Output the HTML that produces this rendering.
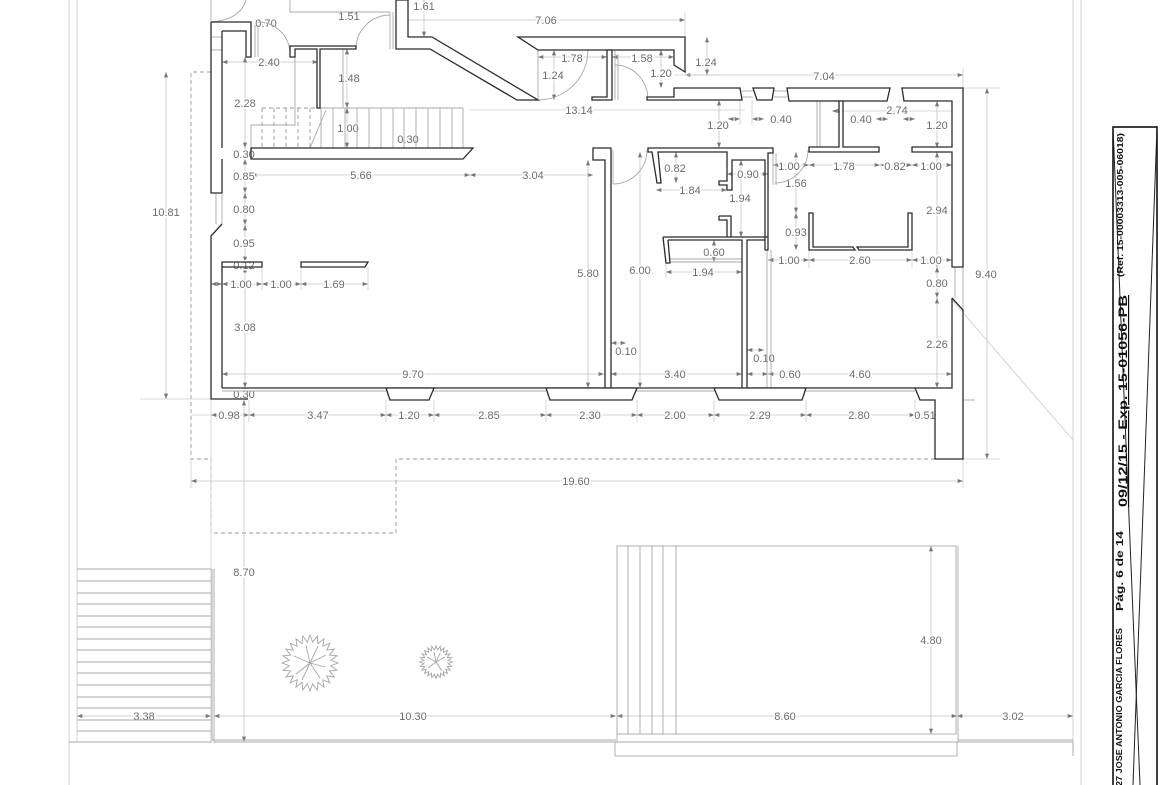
<!DOCTYPE html>
<html>
<head>
<meta charset="utf-8">
<style>
html,body{margin:0;padding:0;background:#fff;}
svg{display:block;}
.w{fill:#fff;stroke:#2b2b2b;stroke-width:1.3;stroke-linejoin:miter;}
.wn{fill:none;stroke:#2b2b2b;stroke-width:1.3;stroke-linejoin:miter;}
.wl{fill:none;stroke:#2b2b2b;stroke-width:1.3;}
.g{fill:none;stroke:#a9a9a9;stroke-width:0.9;}
.lg{fill:none;stroke:#cfcfcf;stroke-width:0.9;}
.d{fill:none;stroke:#c4c4c4;stroke-width:0.8;marker-start:url(#ar);marker-end:url(#ar);}
.e{fill:none;stroke:#cdcdcd;stroke-width:0.8;}
.ds{fill:none;stroke:#9a9a9a;stroke-width:0.9;stroke-dasharray:4 3;}
.t text{font-family:"Liberation Sans",Arial,sans-serif;font-size:11px;fill:#6c6c6c;text-anchor:middle;paint-order:stroke;stroke:#fff;stroke-width:3px;stroke-linejoin:round;}
.tb{font-family:"Liberation Sans",Arial,sans-serif;font-weight:bold;fill:#111;}
</style>
</head>
<body>
<svg width="1170" height="785" viewBox="0 0 1170 785" xmlns="http://www.w3.org/2000/svg">
<defs>
<marker id="ar" viewBox="0 0 8 6" refX="8" refY="3" markerWidth="6" markerHeight="4" markerUnits="userSpaceOnUse" orient="auto-start-reverse">
<path d="M0,0 L8,3 L0,6 z" fill="#777"/>
</marker>
</defs>

<!-- page frame lines -->
<line class="lg" x1="69" y1="0" x2="69" y2="785"/>
<line class="lg" x1="77" y1="0" x2="77" y2="742"/>
<line class="lg" x1="1073" y1="0" x2="1073" y2="756"/>
<line class="lg" x1="1081" y1="0" x2="1081" y2="785"/>
<line class="lg" x1="952" y1="300" x2="1073" y2="440"/>

<!-- dashed outlines -->
<path class="ds" d="M211,72 H191 V459 H211"/>
<path class="ds" d="M211,459 V533 H396 V459 H935"/>

<!-- dimension lines -->
<g>
<line class="d" x1="398" y1="20" x2="685" y2="20"/>
<line class="d" x1="222" y1="62" x2="318" y2="62"/>
<line class="d" x1="538" y1="57" x2="607" y2="57"/>
<line class="d" x1="612" y1="57" x2="674" y2="57"/>
<line class="d" x1="685" y1="75" x2="963" y2="75"/>
<line class="e" x1="470" y1="110" x2="745" y2="110"/>
<line class="d" x1="728" y1="119" x2="740" y2="119"/>
<line class="d" x1="764" y1="119" x2="752" y2="119"/>
<line class="d" x1="832" y1="111" x2="843" y2="111"/>
<line class="e" x1="843" y1="111" x2="952" y2="111"/>
<line class="d" x1="888" y1="119" x2="876" y2="119"/>
<line class="d" x1="903" y1="119" x2="915" y2="119"/>
<line class="d" x1="773" y1="165" x2="809" y2="165"/>
<line class="d" x1="809" y1="165" x2="880" y2="165"/>
<line class="d" x1="880" y1="165" x2="912" y2="165"/>
<line class="d" x1="912" y1="165" x2="952" y2="165"/>
<line class="d" x1="251" y1="175" x2="470" y2="175"/>
<line class="d" x1="470" y1="175" x2="593" y2="175"/>
<line class="d" x1="727" y1="174" x2="768" y2="174"/>
<line class="d" x1="656" y1="190" x2="727" y2="190"/>
<line class="d" x1="768" y1="260" x2="809" y2="260"/>
<line class="d" x1="809" y1="260" x2="912" y2="260"/>
<line class="d" x1="912" y1="260" x2="952" y2="260"/>
<line class="d" x1="666" y1="272" x2="742" y2="272"/>
<line class="d" x1="211" y1="284" x2="222" y2="284"/>
<line class="d" x1="222" y1="284" x2="262" y2="284"/>
<line class="d" x1="262" y1="284" x2="301" y2="284"/>
<line class="d" x1="301" y1="284" x2="368" y2="284"/>
<line class="d" x1="222" y1="374" x2="604" y2="374"/>
<line class="d" x1="611" y1="374" x2="742" y2="374"/>
<line class="d" x1="747" y1="374" x2="768" y2="374"/>
<line class="d" x1="768" y1="374" x2="952" y2="374"/>
<line class="d" x1="211" y1="415" x2="249" y2="415"/>
<line class="d" x1="249" y1="415" x2="386" y2="415"/>
<line class="d" x1="386" y1="415" x2="434" y2="415"/>
<line class="d" x1="434" y1="415" x2="546" y2="415"/>
<line class="d" x1="546" y1="415" x2="637" y2="415"/>
<line class="d" x1="637" y1="415" x2="714" y2="415"/>
<line class="d" x1="714" y1="415" x2="806" y2="415"/>
<line class="d" x1="806" y1="415" x2="915" y2="415"/>
<line class="d" x1="915" y1="415" x2="936" y2="415"/>
<line class="e" x1="191" y1="415" x2="211" y2="415"/>
<line class="d" x1="191" y1="481" x2="963" y2="481"/>
<line class="d" x1="77" y1="716" x2="211" y2="716"/>
<line class="d" x1="214" y1="716" x2="616" y2="716"/>
<line class="d" x1="617" y1="716" x2="957" y2="716"/>
<line class="d" x1="957" y1="716" x2="1073" y2="716"/>

<line class="d" x1="166" y1="72" x2="166" y2="399"/>
<line class="d" x1="245" y1="57" x2="245" y2="148"/>
<line class="d" x1="245" y1="148" x2="245" y2="159"/>
<line class="d" x1="245" y1="159" x2="245" y2="193"/>
<line class="d" x1="245" y1="193" x2="245" y2="225"/>
<line class="d" x1="245" y1="225" x2="245" y2="262"/>
<line class="e" x1="245" y1="262" x2="245" y2="267"/>
<line class="d" x1="245" y1="267" x2="245" y2="388"/>
<line class="d" x1="245" y1="388" x2="245" y2="400"/>
<line class="d" x1="244" y1="400" x2="244" y2="742"/>
<line class="d" x1="347" y1="49" x2="347" y2="108"/>
<line class="d" x1="347" y1="108" x2="347" y2="148"/>
<line class="d" x1="424" y1="0" x2="424" y2="37"/>
<line class="d" x1="554" y1="50" x2="554" y2="100"/>
<line class="d" x1="661" y1="50" x2="661" y2="88"/>
<line class="d" x1="707" y1="37" x2="707" y2="75"/>
<line class="d" x1="719" y1="100" x2="719" y2="148"/>
<line class="d" x1="937" y1="101" x2="937" y2="148"/>
<line class="d" x1="937" y1="152" x2="937" y2="267"/>
<line class="d" x1="937" y1="267" x2="937" y2="298"/>
<line class="d" x1="937" y1="298" x2="937" y2="388"/>
<line class="d" x1="987" y1="88" x2="987" y2="459"/>
<line class="d" x1="588" y1="160" x2="588" y2="388"/>
<line class="d" x1="640" y1="152" x2="640" y2="388"/>
<line class="d" x1="741" y1="160" x2="741" y2="237"/>
<line class="d" x1="676" y1="152" x2="676" y2="183"/>
<line class="d" x1="796" y1="152" x2="796" y2="213"/>
<line class="d" x1="796" y1="213" x2="796" y2="250"/>
<line class="d" x1="714" y1="240" x2="714" y2="262"/>
<line class="d" x1="931" y1="546" x2="931" y2="734"/>
<line class="d" x1="626" y1="343" x2="611" y2="343"/>
<line class="d" x1="764" y1="350" x2="747" y2="350"/>

<!-- extension lines -->
<line class="e" x1="685" y1="12" x2="685" y2="37"/>
<line class="e" x1="674" y1="75" x2="720" y2="75"/>
<line class="e" x1="963" y1="68" x2="963" y2="88"/>
<line class="e" x1="963" y1="88" x2="1000" y2="88"/>
<line class="e" x1="963" y1="459" x2="1000" y2="459"/>
<line class="e" x1="963" y1="459" x2="963" y2="488"/>
<line class="e" x1="191" y1="459" x2="191" y2="488"/>
<line class="e" x1="211" y1="400" x2="211" y2="742"/>
<line class="e" x1="249" y1="400" x2="249" y2="422"/>
<line class="e" x1="386" y1="400" x2="386" y2="422"/>
<line class="e" x1="434" y1="400" x2="434" y2="422"/>
<line class="e" x1="546" y1="400" x2="546" y2="422"/>
<line class="e" x1="637" y1="400" x2="637" y2="422"/>
<line class="e" x1="714" y1="400" x2="714" y2="422"/>
<line class="e" x1="806" y1="400" x2="806" y2="422"/>
<line class="e" x1="915" y1="400" x2="915" y2="422"/>
<line class="e" x1="740" y1="100" x2="740" y2="125"/>
<line class="e" x1="752" y1="100" x2="752" y2="125"/>
<line class="e" x1="140" y1="399" x2="211" y2="399"/>
<line class="e" x1="809" y1="250" x2="809" y2="268"/>
<line class="e" x1="912" y1="250" x2="912" y2="268"/>
<line class="e" x1="368" y1="267" x2="368" y2="290"/>
<line class="e" x1="301" y1="267" x2="301" y2="290"/>
<line class="e" x1="262" y1="267" x2="262" y2="290"/>
<line class="e" x1="666" y1="263" x2="666" y2="278"/>
<line class="e" x1="952" y1="370" x2="952" y2="380"/>
</g>

<!-- labels -->
<g class="t">
<text x="349" y="20">1.51</text>
<text x="424" y="10">1.61</text>
<text x="266" y="27">0.70</text>
<text x="546" y="24">7.06</text>
<text x="269" y="66">2.40</text>
<text x="572" y="62">1.78</text>
<text x="642" y="62">1.58</text>
<text x="553" y="79">1.24</text>
<text x="661" y="77">1.20</text>
<text x="706" y="66">1.24</text>
<text x="349" y="82">1.48</text>
<text x="245" y="107">2.28</text>
<text x="824" y="80">7.04</text>
<text x="579" y="114">13.14</text>
<text x="348" y="132">1.00</text>
<text x="408" y="143">0.30</text>
<text x="718" y="129">1.20</text>
<text x="781" y="123">0.40</text>
<text x="861" y="123">0.40</text>
<text x="897" y="114">2.74</text>
<text x="937" y="129">1.20</text>
<text x="244" y="158">0.30</text>
<text x="244" y="180">0.85</text>
<text x="361" y="179">5.66</text>
<text x="533" y="179">3.04</text>
<text x="675" y="172">0.82</text>
<text x="748" y="178">0.90</text>
<text x="690" y="194">1.84</text>
<text x="740" y="202">1.94</text>
<text x="789" y="170">1.00</text>
<text x="796" y="187">1.56</text>
<text x="844" y="170">1.78</text>
<text x="895" y="170">0.82</text>
<text x="931" y="170">1.00</text>
<text x="244" y="213">0.80</text>
<text x="166" y="216">10.81</text>
<text x="937" y="214">2.94</text>
<text x="796" y="236">0.93</text>
<text x="244" y="247">0.95</text>
<text x="714" y="256">0.60</text>
<text x="244" y="269">0.12</text>
<text x="703" y="276">1.94</text>
<text x="789" y="264">1.00</text>
<text x="860" y="264">2.60</text>
<text x="931" y="264">1.00</text>
<text x="986" y="278">9.40</text>
<text x="588" y="277">5.80</text>
<text x="640" y="274">6.00</text>
<text x="241" y="288">1.00</text>
<text x="281" y="288">1.00</text>
<text x="334" y="288">1.69</text>
<text x="937" y="287">0.80</text>
<text x="245" y="331">3.08</text>
<text x="937" y="348">2.26</text>
<text x="626" y="355">0.10</text>
<text x="764" y="362">0.10</text>
<text x="413" y="378">9.70</text>
<text x="675" y="378">3.40</text>
<text x="790" y="378">0.60</text>
<text x="860" y="378">4.60</text>
<text x="244" y="398">0.30</text>
<text x="229" y="419">0.98</text>
<text x="318" y="419">3.47</text>
<text x="409" y="419">1.20</text>
<text x="489" y="419">2.85</text>
<text x="590" y="419">2.30</text>
<text x="675" y="419">2.00</text>
<text x="760" y="419">2.29</text>
<text x="859" y="419">2.80</text>
<text x="925" y="419">0.51</text>
<text x="576" y="485">19.60</text>
<text x="244" y="576">8.70</text>
<text x="931" y="644">4.80</text>
<text x="144" y="720">3.38</text>
<text x="413" y="720">10.30</text>
<text x="785" y="720">8.60</text>
<text x="1013" y="720">3.02</text>
</g>

<!-- grey secondary lines (stairs, jambs, glass) -->
<g>
<path class="g" d="M290,0 V12 H390"/>
<path class="g" d="M211,0 V22"/>
<path class="g" d="M211,22 Q240,20 246,0"/>
<path class="g" d="M258,22 A32,32 0 0 1 290,54"/>
<line class="g" x1="255" y1="25" x2="255" y2="57"/>
<line class="g" x1="258" y1="25" x2="258" y2="57"/>
<path class="g" d="M356,49 A34,34 0 0 1 390,15"/>
<line class="g" x1="390" y1="12" x2="390" y2="49"/>
<line class="g" x1="393" y1="12" x2="393" y2="49"/>
<path class="g" d="M295,57 V125 H251 V148"/>
<line class="g" x1="343" y1="49" x2="343" y2="108"/>
<line class="g" x1="321" y1="108" x2="463" y2="108"/>
<path class="ds" d="M262,108 H321 M262,108 V148 M274,108 V148 M286,108 V148 M298,108 V148 M310,108 V148"/>
<path class="g" d="M321,108 V148 M333,108 V148 M345,108 V148 M357,108 V148 M369,108 V148 M381,108 V148 M393,108 V148 M404,108 V148 M416,108 V148 M428,108 V148 M440,108 V148 M452,108 V148 M463,108 V148"/>
<line class="g" x1="310" y1="148" x2="326" y2="110"/>
<path class="g" d="M538,50 V100"/>
<path class="g" d="M538,100 A50,50 0 0 0 588,50"/>
<path class="g" d="M615,65 A33,35 0 0 1 648,100"/>
<line class="g" x1="615" y1="50" x2="615" y2="100"/>
<line class="g" x1="618" y1="54" x2="618" y2="100"/>
<line class="g" x1="742" y1="91" x2="753" y2="91"/>
<line class="g" x1="742" y1="97" x2="753" y2="97"/>
<line class="g" x1="774" y1="91" x2="787" y2="91"/>
<line class="g" x1="774" y1="97" x2="787" y2="97"/>
<line class="g" x1="817" y1="101" x2="817" y2="147"/>
<line class="g" x1="820" y1="101" x2="820" y2="147"/>
<path class="g" d="M613,184 A34,34 0 0 0 647,150"/>
<line class="g" x1="613" y1="150" x2="613" y2="184"/>
<path class="g" d="M775,183 A33,33 0 0 0 808,150"/>
<line class="g" x1="773" y1="153" x2="773" y2="185"/>
<line class="g" x1="776" y1="153" x2="776" y2="185"/>
<line class="g" x1="670" y1="262" x2="742" y2="262"/>
<line class="g" x1="670" y1="259" x2="742" y2="259"/>
<line class="g" x1="767" y1="250" x2="767" y2="400"/>
<line class="g" x1="771" y1="250" x2="771" y2="400"/>
<line class="g" x1="216" y1="193" x2="216" y2="224"/>
<line class="g" x1="222" y1="193" x2="222" y2="224"/>
<line class="g" x1="955" y1="267" x2="955" y2="298"/>
<line class="g" x1="963" y1="267" x2="963" y2="310"/>
<line class="g" x1="222" y1="391" x2="915" y2="391"/>
<line class="g" x1="211" y1="37" x2="222" y2="37"/>
<line class="g" x1="211" y1="50" x2="222" y2="50"/>
<line class="g" x1="963" y1="400" x2="975" y2="400"/>
</g>

<!-- main walls -->
<g>
<path class="wl" d="M211,22 V193 H222 M222,224 L211,236 V399 H248"/>
<path class="wl" d="M222,31 V148 M222,159 V193 M222,267 V388"/>
<path class="wl" d="M222,31 H246 V57 H251 V22 H211"/>
<polygon class="w" points="290,46 356,46 356,49 320,49 320,108 317,108 317,49 295,49 295,57 290,57"/>
<polygon class="w" points="396,0 396,49 430,49 517,100 538,100 432,37 408,37 408,0"/>
<polygon class="w" points="518,37 685,37 685,72 674,65 674,50 538,50"/>
<polygon class="w" points="607,50 612,50 612,100 592,100 592,97 607,97"/>
<polygon class="w" points="647,97 674,97 674,88 740,88 742,100 647,100"/>
<polygon class="w" points="753,88 774,88 772,100 757,100"/>
<polygon class="w" points="787,88 890,88 887,101 789,101"/>
<polygon class="w" points="839,101 843,101 843,147 879,147 879,152 809,152 809,147 839,147"/>
<polygon class="w" points="902,88 963,88 963,267 952,267 952,152 912,152 912,147 952,147 952,101 904,101"/>
<polygon class="wn" points="251,148 473,148 463,159 251,159"/>
<polygon class="wn" points="222,262 262,262 262,267 222,267"/>
<polygon class="wn" points="301,262 368,262 365,267 301,267"/>
<polygon class="w" points="593,148 611,148 611,388 605,388 605,160 593,160"/>
<path class="wl" d="M648,148 H773 V153 H768 V250 H765 V160 H732 V190 H727 V185 H719 V181 H727 V152 H658 L661,183 H657 L652,152 H648 Z"/>
<path class="wl" d="M719,216 H731 V237 M719,216 V220 H727 V237"/>
<path class="wl" d="M663,237 H768 M668,240 H742 V388 M747,388 V240 H765"/>
<path class="wl" d="M663,237 L666,263 H670 L668,240"/>
<polygon class="w" points="809,213 813,213 813,247 853,247 855,250 809,250"/>
<polygon class="w" points="859,250 912,250 912,213 908,213 908,247 857,247"/>
<path class="wl" d="M952,298 V388 H915 L920,400 H935 V459 H963 V310 L952,298"/>
<path class="wl" d="M222,388 H605 M611,388 H742 M747,388 H915"/>
<polygon class="w" points="386,388 434,388 429,400 390,400"/>
<polygon class="w" points="546,388 637,388 632,400 550,400"/>
<polygon class="w" points="714,388 806,388 802,400 719,400"/>
</g>

<!-- exterior: steps on left -->
<g class="g">
<path d="M77,569 H211 M77,581 H211 M77,593 H211 M77,604 H211 M77,616 H211 M77,627 H211 M77,639 H211 M77,650 H211 M77,662 H211 M77,673 H211 M77,685 H211 M77,697 H211 M77,708 H211 M77,720 H211 M77,731 H211"/>
<path d="M69,742 H212"/>
<path d="M212,569 V740 H616"/>
<path d="M214,569 V742 H616"/>
</g>

<!-- pool -->
<g class="g">
<rect x="617" y="546" width="339" height="188"/>
<path d="M628,546 V734 M640,546 V734 M652,546 V734 M663,546 V734 M676,546 V734"/>
<path d="M617,734 V742 H957"/>
<rect x="615" y="742" width="342" height="14"/>
<path d="M958,546 V742 H1073 V756"/>
<path d="M958,740 H1073"/>
</g>

<!-- trees -->
<g fill="none" stroke="#a5a5a5" stroke-width="0.9">
<polygon points="338,663 330.8,665.7 337,670.2 329.4,671 334.2,677 326.7,675.8 329.8,682.8 322.8,679.7 324,687.2 318,682.4 317.2,690 312.7,683.8 310,691 307.3,683.8 302.8,690 302,682.4 296,687.2 297.2,679.7 290.2,682.8 293.3,675.8 285.8,677 290.6,671 283,670.2 289.2,665.7 282,663 289.2,660.3 283,655.8 290.6,655 285.8,649 293.3,650.2 290.2,643.2 297.2,646.3 296,638.8 302,643.6 302.8,636 307.3,642.2 310,635 312.7,642.2 317.2,636 318,643.6 324,638.8 322.8,646.3 329.8,643.2 326.7,650.2 334.2,649 329.4,655 337,655.8 330.8,660.3"/>
<path d="M310,663 L326,655 M310,663 L320,678 M310,663 L296,674 M310,663 L294,656 M310,663 L306,645 M310,663 L318,646 M310,663 L325,667 M310,663 L302,680"/>
<polygon vector-effect="non-scaling-stroke" transform="translate(436,662) scale(0.58) translate(-310,-663)" points="338,663 330.8,665.7 337,670.2 329.4,671 334.2,677 326.7,675.8 329.8,682.8 322.8,679.7 324,687.2 318,682.4 317.2,690 312.7,683.8 310,691 307.3,683.8 302.8,690 302,682.4 296,687.2 297.2,679.7 290.2,682.8 293.3,675.8 285.8,677 290.6,671 283,670.2 289.2,665.7 282,663 289.2,660.3 283,655.8 290.6,655 285.8,649 293.3,650.2 290.2,643.2 297.2,646.3 296,638.8 302,643.6 302.8,636 307.3,642.2 310,635 312.7,642.2 317.2,636 318,643.6 324,638.8 322.8,646.3 329.8,643.2 326.7,650.2 334.2,649 329.4,655 337,655.8 330.8,660.3"/>
<path d="M436,662 L445,657 M436,662 L442,671 M436,662 L428,668 M436,662 L427,657 M436,662 L434,652 M436,662 L440,653"/>
</g>

<!-- title block -->
<rect x="1113" y="127" width="44" height="662" fill="none" stroke="#111" stroke-width="1.6"/>
<line x1="1157" y1="127" x2="1133" y2="785" stroke="#222" stroke-width="1"/>
<line x1="1113" y1="127" x2="1140" y2="785" stroke="#222" stroke-width="1"/>
<text class="tb" font-size="8.5" transform="translate(1122,786) rotate(-90)" textLength="158" lengthAdjust="spacingAndGlyphs">27 JOSE ANTONIO GARCIA FLORES</text>
<text class="tb" font-size="10" transform="translate(1123,611) rotate(-90)" textLength="80" lengthAdjust="spacingAndGlyphs">Pág. 6 de 14</text>
<text class="tb" font-size="12" transform="translate(1127,507) rotate(-90)" textLength="212" lengthAdjust="spacingAndGlyphs" text-decoration="underline">09/12/15  -  Exp. 15-01056-PB</text>
<text class="tb" font-size="8" transform="translate(1123,277) rotate(-90)" textLength="144" lengthAdjust="spacingAndGlyphs">(Ref. 15-00003313-005-06018)</text>
</svg>
</body>
</html>
